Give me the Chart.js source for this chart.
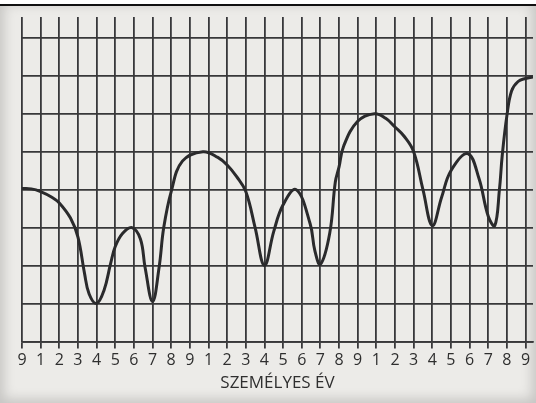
<!DOCTYPE html>
<html>
<head>
<meta charset="utf-8">
<script src="https://cdn.jsdelivr.net/npm/chart.js@4.4.1/dist/chart.umd.min.js"></script>
<style>
	html, body { margin: 0; padding: 0; background: #ffffff; }
	#frame {
		position: relative;
		width: 536px;
		height: 403px;
		overflow: hidden;
		background: #ecebe8;
		box-shadow: inset 0 0 12px 4px rgba(0,0,0,0.16);
	}
	#topline {
		position: absolute; left: 0; top: 0; width: 536px; height: 4px;
		background: #ffffff; border-bottom: 2px solid #111;
	}
	#chart { position: absolute; left: 0; top: 0; }
</style>
</head>
<body>
<div id="frame">
	<canvas id="chart" width="536" height="403"></canvas>
	<div id="topline"></div>
</div>
<script>
// personal year labels under each vertical grid line
var yearLabels = ["9","1","2","3","4","5","6","7","8","9","1","2","3","4","5","6","7","8","9","1","2","3","4","5","6","7","8","9"];

// curve (x in year steps, y in grid rows)
var xPos = [0, 0.5, 1, 1.6, 2, 2.6, 3, 3.35, 3.6, 4, 4.4, 4.75, 5, 5.4, 5.9, 6.35, 6.6, 7, 7.35, 7.6,
	8, 8.6, 9.7, 10.5, 11, 11.5, 12, 12.5, 13, 13.5, 14, 14.7, 15.45, 15.7, 16, 16.5, 16.8, 17, 17.25,
	18, 18.9, 19.5, 20, 20.5, 21, 21.5, 22, 22.5, 23, 23.9, 24.5, 25, 25.35, 25.6, 25.75, 26, 26.25, 26.6, 27, 27.4];
var yVal = [4.03, 4.02, 3.95, 3.8, 3.65, 3.25, 2.75, 1.8, 1.25, 1.0, 1.35, 2.05, 2.5, 2.85, 3.0, 2.7, 1.95, 1.05, 1.95, 3.0,
	3.95, 4.75, 5.0, 4.85, 4.65, 4.35, 3.95, 3.0, 2.0, 2.9, 3.6, 4.0, 3.1, 2.4, 2.03, 2.85, 4.2, 4.6, 5.15,
	5.8, 6.0, 5.88, 5.65, 5.4, 5.0, 4.0, 3.05, 3.8, 4.5, 4.95, 4.3, 3.3, 3.05, 4.0, 4.9, 5.95, 6.6, 6.85, 6.93, 6.97];

var axisTitle = "SZEMÉLYES ÉV";

var points = new Array();
for (var i in xPos) {
	points[i] = { x: xPos[i], y: yVal[i] };
}

var gridColor = "#38383a";
var textColor = "#2f2f2f";

var ctx = document.getElementById("chart").getContext("2d");
new Chart(ctx, {
	type: 'line',
	data: {
		datasets: [
			{
				data: points,
				borderColor: "#2a2a2c",
				borderWidth: 3,
				pointRadius: 0,
				fill: false,
				tension: 0.4
			}
		]
	},
	options: {
		responsive: false,
		animation: false,
		events: [],
		layout: {
			padding: { top: 17, left: 22, right: 3, bottom: 10 }
		},
		plugins: {
			legend: { display: false },
			tooltip: { enabled: false }
		},
		scales: {
			x: {
				type: 'linear',
				min: 0,
				max: 27.4,
				border: { display: true, color: gridColor, width: 1.8 },
				grid: {
					color: gridColor,
					lineWidth: 1.8,
					drawTicks: true,
					tickLength: 7,
					tickColor: gridColor,
					tickWidth: 1.8
				},
				ticks: {
					stepSize: 1,
					includeBounds: false,
					autoSkip: false,
					maxRotation: 0,
					padding: 2,
					color: textColor,
					font: { family: "'Open Sans', sans-serif", size: 16 },
					callback: function (value) {
						return yearLabels[value];
					}
				},
				title: {
					display: true,
					text: axisTitle,
					color: textColor,
					padding: { top: 1, bottom: 0 },
					font: { family: "'Open Sans', sans-serif", size: 17 }
				}
			},
			y: {
				min: 0,
				max: 8.55,
				border: { display: false },
				grid: {
					color: gridColor,
					lineWidth: 1.8,
					drawTicks: false
				},
				ticks: {
					display: false,
					stepSize: 1,
					includeBounds: false
				}
			}
		}
	}
});
</script>
</body>
</html>
